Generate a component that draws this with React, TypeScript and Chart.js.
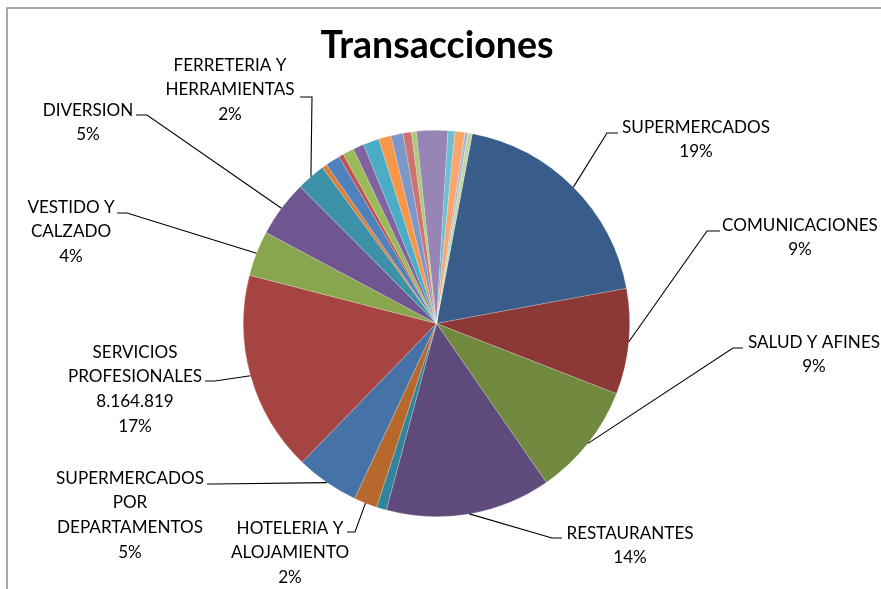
import React, { useEffect, useRef } from "react";
import { Chart, registerables } from "chart.js";

Chart.register(...registerables);

const TITLE = "Transacciones";

const CATEGORIES = [
  "SUPERMERCADOS",
  "COMUNICACIONES",
  "SALUD Y AFINES",
  "RESTAURANTES",
  "OTROS 1",
  "HOTELERIA Y ALOJAMIENTO",
  "SUPERMERCADOS POR DEPARTAMENTOS",
  "SERVICIOS PROFESIONALES",
  "VESTIDO Y CALZADO",
  "DIVERSION",
  "FERRETERIA Y HERRAMIENTAS",
  "OTROS 2",
  "OTROS 3",
  "OTROS 4",
  "OTROS 5",
  "OTROS 6",
  "OTROS 7",
  "OTROS 8",
  "OTROS 9",
  "OTROS 10",
  "OTROS 11",
  "OTROS 12",
  "OTROS 13",
  "OTROS 14",
  "OTROS 15",
  "OTROS 16",
];

const VALUES = [
  9300300, 4298700, 4596100, 6718400, 405500, 946300, 2568400, 8164819,
  1838400, 2298000, 1176100, 202800, 594800, 189300, 459600, 446100, 648900,
  500200, 498700, 337900, 201500, 1270700, 283900, 404200, 121700, 175700,
];

const COLORS = [
  "#385D8A", "#8C3836", "#71893F", "#5F4B7B", "#31849B", "#B7692D",
  "#4572A7", "#A64441", "#89A54E", "#6F5690", "#3D91A8", "#DA8137",
  "#4F81BD", "#C0504D", "#9BBB59", "#8064A2", "#4BACC6", "#F79646",
  "#7C97C8", "#CD7371", "#AFC97A", "#9685B5", "#6FBDD1", "#F9A66C",
  "#A5B6D6", "#C5D5A3",
];

// label text lines per labelled category (wrapping as in the original)
const LABEL_LINES: Record<string, string[]> = {
  "SUPERMERCADOS": ["SUPERMERCADOS"],
  "COMUNICACIONES": ["COMUNICACIONES"],
  "SALUD Y AFINES": ["SALUD Y AFINES"],
  "RESTAURANTES": ["RESTAURANTES"],
  "HOTELERIA Y ALOJAMIENTO": ["HOTELERIA Y", "ALOJAMIENTO"],
  "SUPERMERCADOS POR DEPARTAMENTOS": ["SUPERMERCADOS", "POR", "DEPARTAMENTOS"],
  "SERVICIOS PROFESIONALES": ["SERVICIOS", "PROFESIONALES"],
  "VESTIDO Y CALZADO": ["VESTIDO Y", "CALZADO"],
  "DIVERSION": ["DIVERSION"],
  "FERRETERIA Y HERRAMIENTAS": ["FERRETERIA Y", "HERRAMIENTAS"],
};
const SHOW_VALUE = ["SERVICIOS PROFESIONALES"];

// layout: label centre x, first line y, leader elbow (ex, ey), leader end x (hx)
const LABEL_LAYOUT: Record<string, { x: number; y: number; ex: number; ey: number; hx: number }> = {
  "SUPERMERCADOS": { x: 696, y: 127, ex: 607, ey: 133, hx: 618 },
  "COMUNICACIONES": { x: 800, y: 225, ex: 707, ey: 231, hx: 720 },
  "SALUD Y AFINES": { x: 814, y: 342, ex: 733, ey: 348, hx: 743 },
  "RESTAURANTES": { x: 630, y: 533, ex: 552, ey: 538, hx: 562 },
  "HOTELERIA Y ALOJAMIENTO": { x: 290, y: 528, ex: 355, ey: 532, hx: 347 },
  "SUPERMERCADOS POR DEPARTAMENTOS": { x: 130, y: 478, ex: 214, ey: 484, hx: 207 },
  "SERVICIOS PROFESIONALES": { x: 135, y: 352, ex: 215, ey: 381, hx: 205 },
  "VESTIDO Y CALZADO": { x: 71, y: 207, ex: 127, ey: 213, hx: 117 },
  "DIVERSION": { x: 88, y: 110, ex: 147, ey: 115, hx: 136 },
  "FERRETERIA Y HERRAMIENTAS": { x: 230, y: 65, ex: 312, ey: 97, hx: 300 },
};

const FONT_FAMILY = "Lato, 'Open Sans', sans-serif";

function fmtNum(n: number): string {
  return String(Math.round(n)).replace(/\B(?=(\d{3})+(?!\d))/g, ".");
}

const overlayPlugin = {
  id: "overlay",
  afterDraw(chart: any) {
    const ctx = chart.ctx as CanvasRenderingContext2D;
    ctx.save();
    // outer frame (partially visible)
    ctx.strokeStyle = "#8a8a8a";
    ctx.lineWidth = 1.5;
    ctx.beginPath();
    ctx.moveTo(7, 589);
    ctx.lineTo(7, 8);
    ctx.lineTo(881, 8);
    ctx.stroke();

    // title
    ctx.font = `bold 100px ${FONT_FAMILY}`;
    const tw = ctx.measureText(TITLE).width;
    const tsize = (100 * 233) / tw;
    ctx.font = `bold ${tsize}px ${FONT_FAMILY}`;
    ctx.fillStyle = "#000";
    ctx.textAlign = "center";
    ctx.textBaseline = "alphabetic";
    ctx.fillText(TITLE, 437, 58);

    // labels
    ctx.font = `100px ${FONT_FAMILY}`;
    const lw = ctx.measureText("SUPERMERCADOS").width;
    const lsize = (100 * 148) / lw;
    ctx.font = `${lsize}px ${FONT_FAMILY}`;
    const lineH = 24.7;
    const total = VALUES.reduce((a, b) => a + b, 0);
    const meta = chart.getDatasetMeta(0);
    CATEGORIES.forEach((cat, i) => {
      const lay = LABEL_LAYOUT[cat];
      if (!lay) return;
      const arc = meta.data[i];
      const p = arc.getProps(["x", "y", "startAngle", "endAngle", "outerRadius"], true);
      const mid = (p.startAngle + p.endAngle) / 2;
      const sx = p.x + Math.cos(mid) * p.outerRadius;
      const sy = p.y + Math.sin(mid) * p.outerRadius;
      ctx.strokeStyle = "#000";
      ctx.lineWidth = 1.1;
      ctx.beginPath();
      ctx.moveTo(sx, sy);
      ctx.lineTo(lay.ex, lay.ey);
      ctx.lineTo(lay.hx, lay.ey);
      ctx.stroke();

      const lines = [...(LABEL_LINES[cat] || [cat])];
      if (SHOW_VALUE.includes(cat)) lines.push(fmtNum(VALUES[i]));
      lines.push(Math.round((VALUES[i] / total) * 100) + "%");
      ctx.fillStyle = "#000";
      ctx.textAlign = "center";
      ctx.textBaseline = "middle";
      lines.forEach((ln, k) => {
        ctx.fillText(ln, lay.x, lay.y + k * lineH);
      });
    });
    ctx.restore();
  },
};

export default function App() {
  const ref = useRef<HTMLCanvasElement | null>(null);
  useEffect(() => {
    if (!ref.current) return;
    const chart = new Chart(ref.current, {
      type: "pie",
      data: {
        labels: CATEGORIES,
        datasets: [
          {
            data: VALUES,
            backgroundColor: COLORS,
            borderColor: "rgba(255,255,255,0.35)",
            borderWidth: 0.6,
          },
        ],
      },
      options: {
        responsive: false,
        animation: false,
        rotation: 10.7,
        layout: { padding: { left: 243, right: 251, top: 130, bottom: 72 } },
        plugins: {
          legend: { display: false },
          tooltip: { enabled: false },
          title: { display: false },
        },
      },
      plugins: [overlayPlugin],
    });
    return () => chart.destroy();
  }, []);
  return (
    <div style={{ position: "absolute", left: 0, top: 0, width: 881, height: 589, background: "#fff" }}>
      <canvas ref={ref} width={881} height={589} style={{ width: 881, height: 589, display: "block" }} />
    </div>
  );
}
